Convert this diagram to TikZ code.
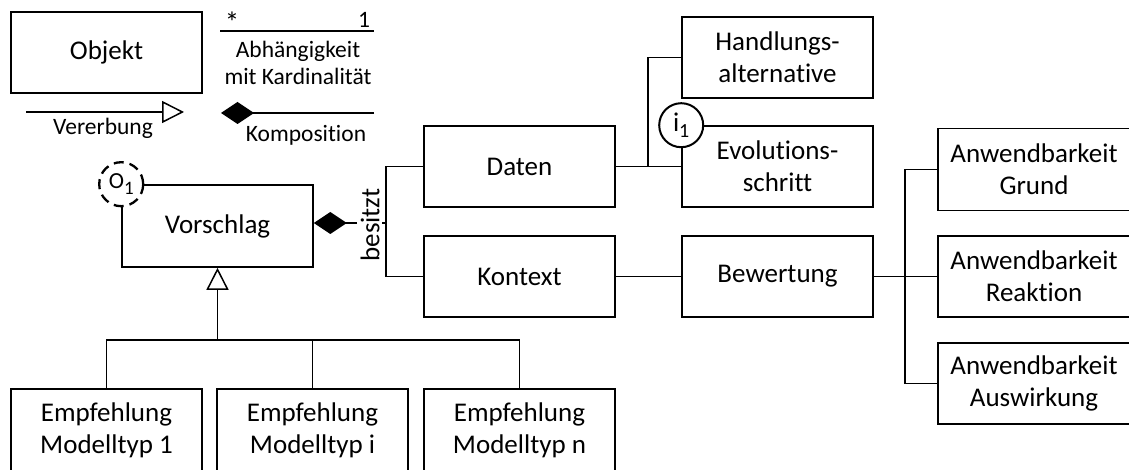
\documentclass[tikz,border=0pt]{standalone}
\usepackage{fontspec}
\setmainfont{Carlito}[RawFeature={-liga;-dlig;-clig}]
\usetikzlibrary{arrows.meta}
\begin{document}
\begin{tikzpicture}[x=1pt,y=-1pt,
  box/.style={draw, line width=1.6pt, minimum width=191pt, minimum height=81pt, inner sep=0pt, align=center, font=\fontsize{27}{32}\selectfont},
  conn/.style={line width=1.5pt},
  lab/.style={font=\fontsize{23.5}{27}\selectfont, inner sep=0pt, align=center},
  comp/.style={-{Diamond[length=33pt,width=22pt]}},
  inh/.style={-{Triangle[open,length=22pt,width=22pt]}},
  marker/.style={circle, draw, fill=white, minimum size=44pt, inner sep=0pt}]
\useasboundingbox (0,0) rectangle (1129,470);

% legend
\node[box] (obj) at (106.5,52.5) {Objekt};
\coordinate (dl) at (220,31);
\coordinate (dr) at (374,31);
\draw[conn] (dl) -- (dr);
\node[lab, anchor=base, font=\fontsize{29}{29}\selectfont] (stern) at (232,33) {*};
\node[lab, anchor=base] (eins) at (364,28) {1};
\node[lab] (abh) at (298,63) {Abhängigkeit\\mit Kardinalität};
\coordinate (vl) at (26,112);
\coordinate (vr) at (184,112);
\draw[conn, inh] (vl) -- (vr);
\node[lab, anchor=base] (vererb) at (103,135) {Vererbung};
\coordinate (kl) at (221,113);
\coordinate (kr) at (374,113);
\draw[conn, comp] (kr) -- (kl);
\node[lab, anchor=base] (kompo) at (306,142) {Komposition};

% main boxes
\node[box, minimum height=82pt] (vor) at (217.5,226) {Vorschlag};
\node[box] (daten) at (519.5,166.5) {Daten};
\node[box] (kontext) at (519.5,276.5) {Kontext};
\node[box] (hand) at (777.5,57.5) {Handlungs-\\alternative};
\node[box] (evol) at (777.5,166.5) {Evolutions-\\schritt};
\node[box] (bew) at (777.5,276.5) {Bewertung};
\node[box, minimum width=192pt, minimum height=82pt] (grund) at (1034,169.5) {Anwendbarkeit\\Grund};
\node[box, minimum width=192pt] (reak) at (1034,276.5) {Anwendbarkeit\\Reaktion};
\node[box, minimum width=192pt] (ausw) at (1034,383.5) {Anwendbarkeit\\Auswirkung};
\node[box, minimum height=82pt] (e1) at (106.5,430) {Empfehlung\\Modelltyp 1};
\node[box, minimum height=82pt] (ei) at (312.5,430) {Empfehlung\\Modelltyp i};
\node[box, minimum height=82pt] (en) at (519.5,430) {Empfehlung\\Modelltyp n};

% composition Vorschlag - Daten/Kontext
\coordinate (bz) at (386,223);
\coordinate (bzl) at (357,223);
\coordinate (bzr) at (382,223);
\draw[conn, comp] (bzl) -- (vor.east |- bz);
\draw[conn] (bzr) -- (bz);
\draw[conn] (daten.west) -| (bz);
\draw[conn] (kontext.west) -| (bz);
\node[font=\fontsize{27}{32}\selectfont, rotate=90, inner sep=0pt] (besitzt) at (370,225) {besitzt};

% Daten branches
\coordinate (db) at (648,166.5);
\draw[conn] (daten.east) -- (evol.west);
\draw[conn] (hand.west) -| (db);

% Kontext - Bewertung
\draw[conn] (kontext.east) -- (bew.west);
\coordinate (ab) at (905,276.5);
\draw[conn] (bew.east) -- (reak.west);
\draw[conn] (grund.west) -| (ab);
\draw[conn] (ausw.west) -| (ab);

% inheritance
\coordinate (ib) at (217.5,340);
\draw[conn, inh] (ib) -- (vor.south);
\draw[conn] (e1.north) -- (e1.north |- ib) -- (en.north |- ib) -- (en.north);
\draw[conn] (ei.north) -- (ei.north |- ib);

% markers
\node[marker, dashed, dash pattern=on 10pt off 6pt, line width=2.3pt] (o1) at (vor.north west)
  {\fontsize{23}{23}\selectfont O\raisebox{-6pt}{\fontsize{19}{19}\selectfont 1}};
\node[marker, line width=2pt] (i1) at (evol.north west)
  {\fontsize{27}{27}\selectfont i\raisebox{-6pt}{\fontsize{20}{20}\selectfont 1}};
\end{tikzpicture}
\end{document}
